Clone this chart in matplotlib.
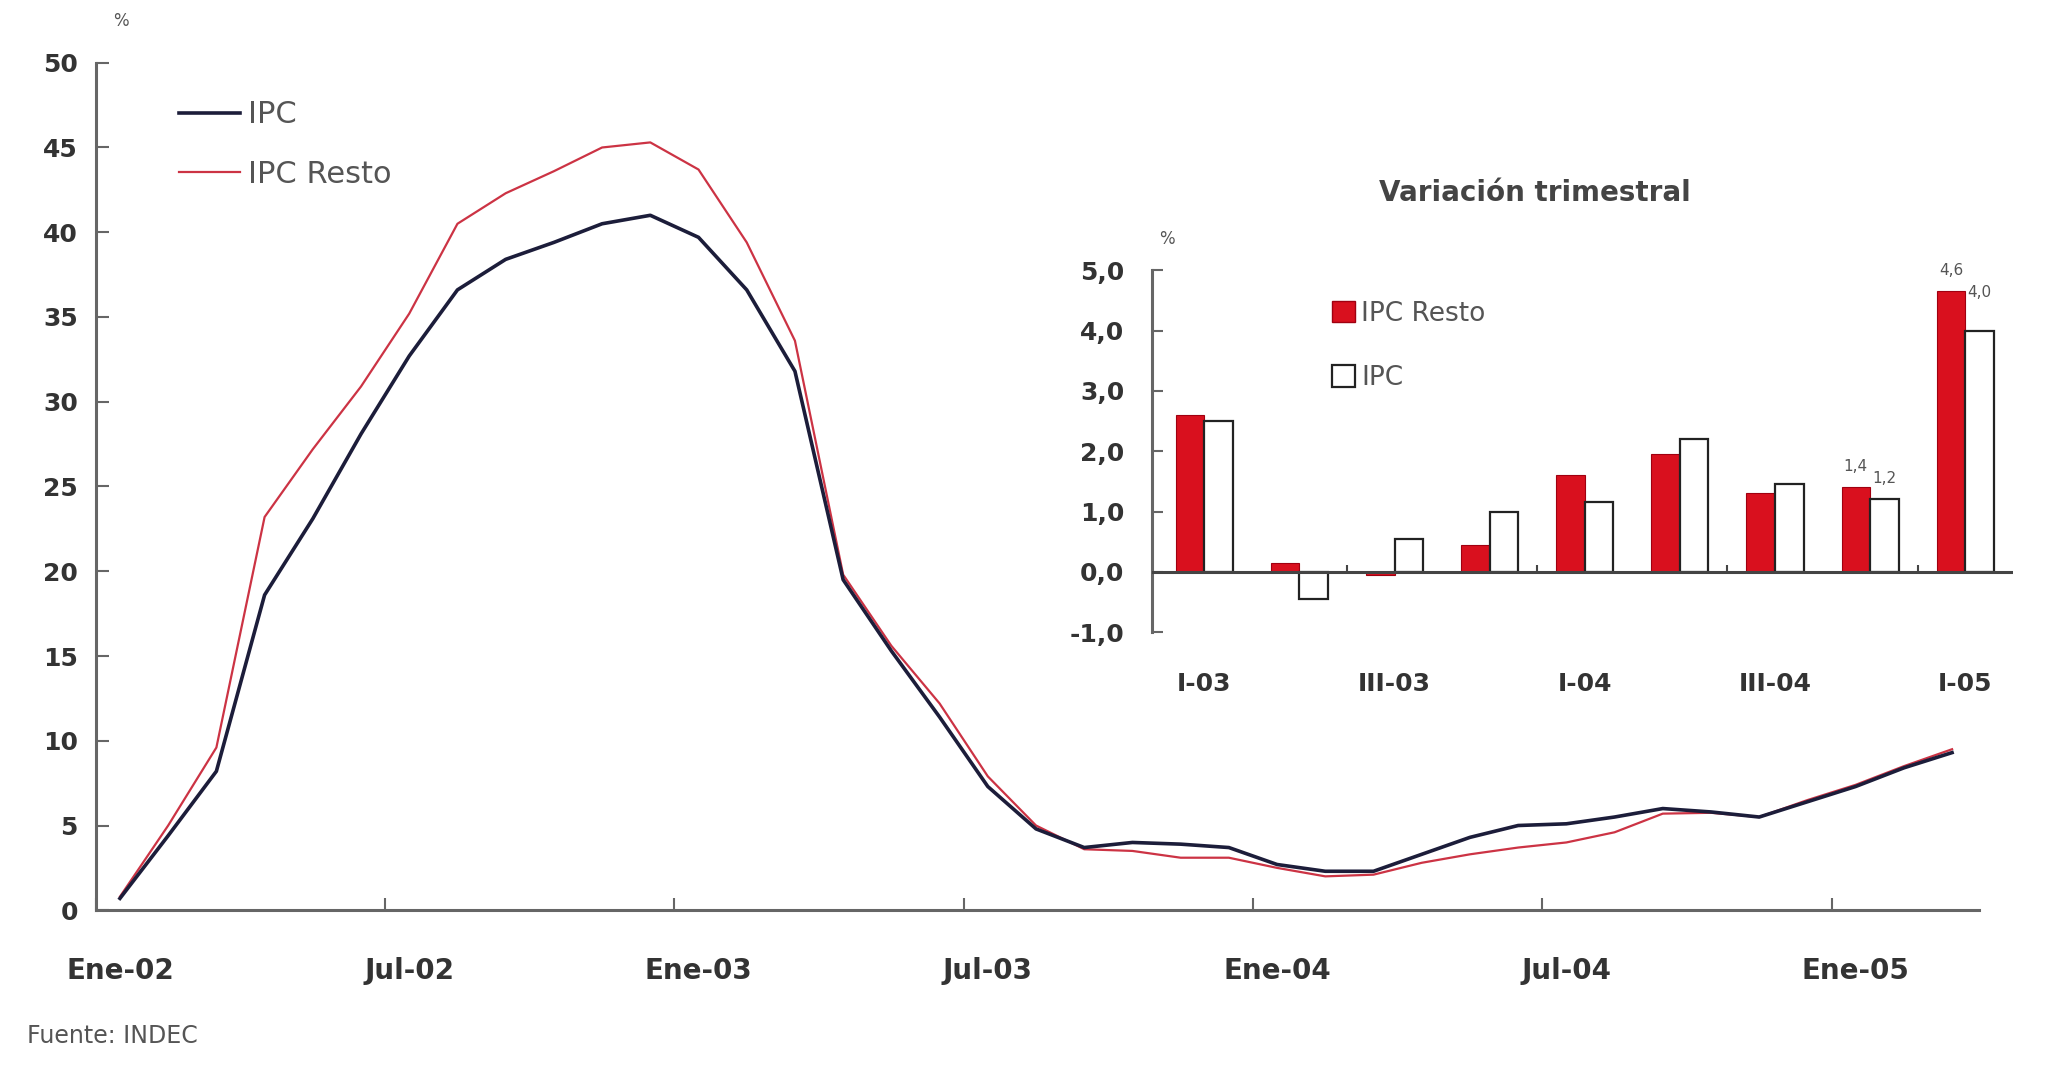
import numpy as np
import matplotlib
matplotlib.use('Agg')
import matplotlib.pyplot as plt
from matplotlib.patches import Patch

# monthly y-o-y inflation, Ene-02 .. Mar-05
ipc = [0.7, 4.4, 8.2, 18.6, 23.1, 28.1, 32.7, 36.6, 38.4, 39.4, 40.5, 41.0, 39.7,
       36.6, 31.8, 19.5, 15.3, 11.4, 7.3, 4.8, 3.7, 4.0, 3.9, 3.7, 2.7, 2.3, 2.3,
       3.3, 4.3, 5.0, 5.1, 5.5, 6.0, 5.8, 5.5, 6.4, 7.3, 8.4, 9.3]
ipc_resto = [0.8, 5.0, 9.6, 23.2, 27.2, 30.9, 35.2, 40.5, 42.3, 43.6, 45.0, 45.3, 43.7,
             39.4, 33.6, 19.8, 15.6, 12.2, 7.9, 5.0, 3.6, 3.5, 3.1, 3.1, 2.5, 2.0, 2.1,
             2.8, 3.3, 3.7, 4.0, 4.6, 5.7, 5.75, 5.5, 6.5, 7.4, 8.5, 9.5]
month_labels = ['Ene-02', 'Jul-02', 'Ene-03', 'Jul-03', 'Ene-04', 'Jul-04', 'Ene-05']

# quarterly variation (inset)
quarters = ['I-03', 'II-03', 'III-03', 'IV-03', 'I-04', 'II-04', 'III-04', 'IV-04', 'I-05']
q_resto = [2.6, 0.15, -0.05, 0.45, 1.6, 1.95, 1.3, 1.4, 4.65]
q_ipc = [2.5, -0.45, 0.55, 1.0, 1.15, 2.2, 1.45, 1.2, 4.0]
q_labels = {7: ('1,4', '1,2'), 8: ('4,6', '4,0')}

navy = '#1c1d3a'
red_line = '#cc3344'
bar_red = '#d9101e'
gray = '#555555'
spine_c = '#666666'

fig = plt.figure(figsize=(20.48, 10.67), dpi=100)

# ---- main chart
ax = fig.add_axes([0.0468, 0.1469, 0.9193, 0.7943])
x = np.arange(len(ipc))
ax.plot(x, ipc, color=navy, lw=2.6, label='IPC', zorder=3)
ax.plot(x, ipc_resto, color=red_line, lw=1.6, label='IPC Resto', zorder=2)

ax.set_xlim(-0.5, 38.55)
ax.set_ylim(0, 50)
ax.set_yticks(np.arange(0, 51, 5))
ax.set_xticks(np.arange(0, 37, 6))
ax.set_xticklabels(month_labels)
ax.set_xticks(np.arange(-0.5, 37, 6), minor=True)
ax.tick_params(axis='x', which='major', length=0, pad=34, labelsize=20, labelcolor='#333333')
ax.tick_params(axis='x', which='minor', direction='in', length=9, width=1.5, color=spine_c)
ax.tick_params(axis='y', direction='in', length=9, width=1.5, color=spine_c,
               pad=13, labelsize=18, labelcolor='#333333')
for t in ax.get_xticklabels() + ax.get_yticklabels():
    t.set_fontweight('bold')
for s in ['top', 'right']:
    ax.spines[s].set_visible(False)
for s in ['left', 'bottom']:
    ax.spines[s].set_color(spine_c)
    ax.spines[s].set_linewidth(2.2)
ax.text(0.0094, 1.043, '%', transform=ax.transAxes, fontsize=12, color=gray)

leg = ax.legend(loc='upper left', bbox_to_anchor=(0.0874, 0.906),
                bbox_transform=fig.transFigure, frameon=False, fontsize=22,
                handlelength=2.0, handletextpad=0.25, labelspacing=1.0,
                borderpad=0, borderaxespad=0)
for t in leg.get_texts():
    t.set_color(gray)

fig.text(0.013, 0.029, 'Fuente: INDEC', fontsize=17, color=gray, va='center')

# ---- inset: quarterly variation
ins = fig.add_axes([0.5625, 0.4076, 0.4203, 0.339])
xq = np.arange(len(quarters))
w = 0.3
ins.bar(xq - w / 2, q_resto, w, color=bar_red, edgecolor='#a00010', lw=0.8, zorder=3)
ins.bar(xq + w / 2, q_ipc, w, color='white', edgecolor='#222222', lw=1.6, zorder=3)
ins.axhline(0, color='#444444', lw=2.2, zorder=4)
ins.vlines(np.arange(1.5, len(quarters), 2), 0, 0.12, color='#444444', lw=1.5, zorder=4)

for i, (ra, rb) in q_labels.items():
    ins.annotate(ra, (xq[i] - w / 2, q_resto[i]), xytext=(0, 12), textcoords='offset points',
                 ha='center', fontsize=11, color=gray)
    off = 12 if q_ipc[i] > q_resto[i] - 0.5 else 24
    ins.annotate(rb, (xq[i] + w / 2, q_ipc[i]), xytext=(0, off), textcoords='offset points',
                 ha='center', fontsize=11, color=gray)

ins.set_xlim(-0.55, 8.5)
ins.set_ylim(-1, 5)
ins.set_yticks(np.arange(-1, 5.1, 1))
ins.set_yticklabels([f'{v:.1f}'.replace('.', ',') for v in np.arange(-1, 5.1, 1)])
ins.set_xticks(xq[::2])
ins.set_xticklabels(quarters[::2])
ins.tick_params(axis='x', length=0, pad=29, labelsize=18, labelcolor='#333333')
ins.tick_params(axis='y', direction='in', length=8, width=1.5, color=spine_c,
                pad=20, labelsize=18, labelcolor='#333333')
for t in ins.get_xticklabels() + ins.get_yticklabels():
    t.set_fontweight('bold')
for s in ['top', 'right', 'bottom']:
    ins.spines[s].set_visible(False)
ins.spines['left'].set_color(spine_c)
ins.spines['left'].set_linewidth(2.2)
ins.patch.set_alpha(0)
ins.text(0.008, 1.072, '%', transform=ins.transAxes, fontsize=12, color=gray)
ins.text(0.445, 1.213, 'Variación trimestral', transform=ins.transAxes, ha='center',
         va='center', fontsize=20, fontweight='bold', color='#444444')

handles = [Patch(facecolor=bar_red, edgecolor='#a00010'),
           Patch(facecolor='white', edgecolor='#222222', lw=1.6)]
leg2 = ins.legend(handles, ['IPC Resto', 'IPC'], loc='upper left',
                  bbox_to_anchor=(0.6505, 0.718), bbox_transform=fig.transFigure,
                  frameon=False, fontsize=19, handlelength=0.85, handleheight=0.85,
                  handletextpad=0.25, labelspacing=1.45, borderpad=0, borderaxespad=0)
for t in leg2.get_texts():
    t.set_color(gray)

fig.savefig('out.png', dpi=100, facecolor='white')
